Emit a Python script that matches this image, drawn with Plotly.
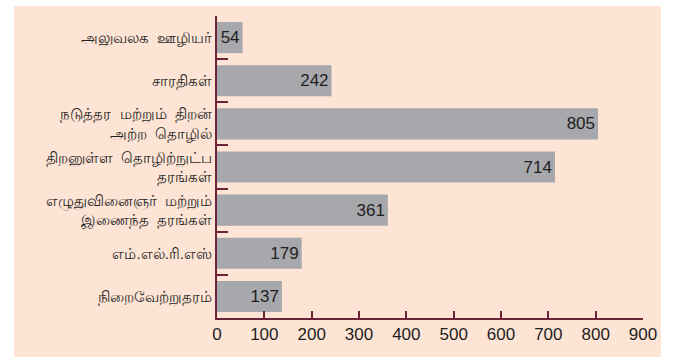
import plotly.graph_objects as go

# Staff categories (top to bottom) and their head counts
categories = [
    "அலுவலக  ஊழியர்",
    "சாரதிகள்",
    "நடுத்தர  மற்றும்  திறன்<br>அற்ற  தொழில்",
    "திறனுள்ள  தொழிற்நுட்ப<br>தரங்கள்",
    "எழுதுவினைஞர்  மற்றும்<br>இணைந்த  தரங்கள்",
    "எம்.எல்.ரி.எஸ்",
    "நிறைவேற்றுதரம்",
]
counts = [54, 242, 805, 714, 361, 179, 137]
x_ticks = [0, 100, 200, 300, 400, 500, 600, 700, 800, 900]

W, H = 681, 358
L, R, T, B = 217, 38, 16, 40
pw, ph = W - L - R, H - T - B

axis_col = "#6e2438"
bar_col = "#a7a8ab"
bg_col = "#fde4d5"
num_font = "Liberation Sans, Arial, sans-serif"

fig = go.Figure(
    go.Bar(
        y=categories,
        x=counts,
        orientation="h",
        marker=dict(color=bar_col, line=dict(width=0)),
        text=[str(v) for v in counts],
        textposition="inside",
        insidetextanchor="end",
        constraintext="none",
        textfont=dict(family=num_font, size=17, color="#1e1e1e"),
        cliponaxis=False,
    )
)

# Peach panel behind the whole chart
fig.add_shape(
    type="rect",
    xref="paper", yref="paper",
    x0=(14 - L) / pw, x1=(661 - L) / pw,
    y0=-(357 - (T + ph)) / ph, y1=(T + ph - 6) / ph,
    fillcolor=bg_col, line=dict(width=0), layer="below",
)

fig.update_layout(
    width=W, height=H,
    margin=dict(l=L, r=R, t=T, b=B),
    paper_bgcolor="white",
    plot_bgcolor="rgba(0,0,0,0)",
    bargap=0.28,
    showlegend=False,
    font=dict(family=num_font, color="#1e1e1e"),
)

fig.update_xaxes(
    range=[0, 900],
    tickvals=x_ticks,
    ticktext=[str(v) for v in x_ticks],
    ticks="inside", ticklen=7, tickwidth=1.5, tickcolor=axis_col,
    showline=True, linecolor=axis_col, linewidth=2,
    showgrid=False, zeroline=False,
    tickfont=dict(size=17, color="#1e1e1e"),
)

fig.update_yaxes(
    type="category",
    categoryorder="array",
    categoryarray=categories[::-1],
    tickson="boundaries",
    ticks="inside", ticklen=11, tickwidth=1.5, tickcolor=axis_col,
    showline=True, linecolor=axis_col, linewidth=2,
    showgrid=False, zeroline=False,
    tickfont=dict(size=15, color="#1e1e1e"),
    ticklabelstandoff=0,
)

fig.write_html("out.html")
